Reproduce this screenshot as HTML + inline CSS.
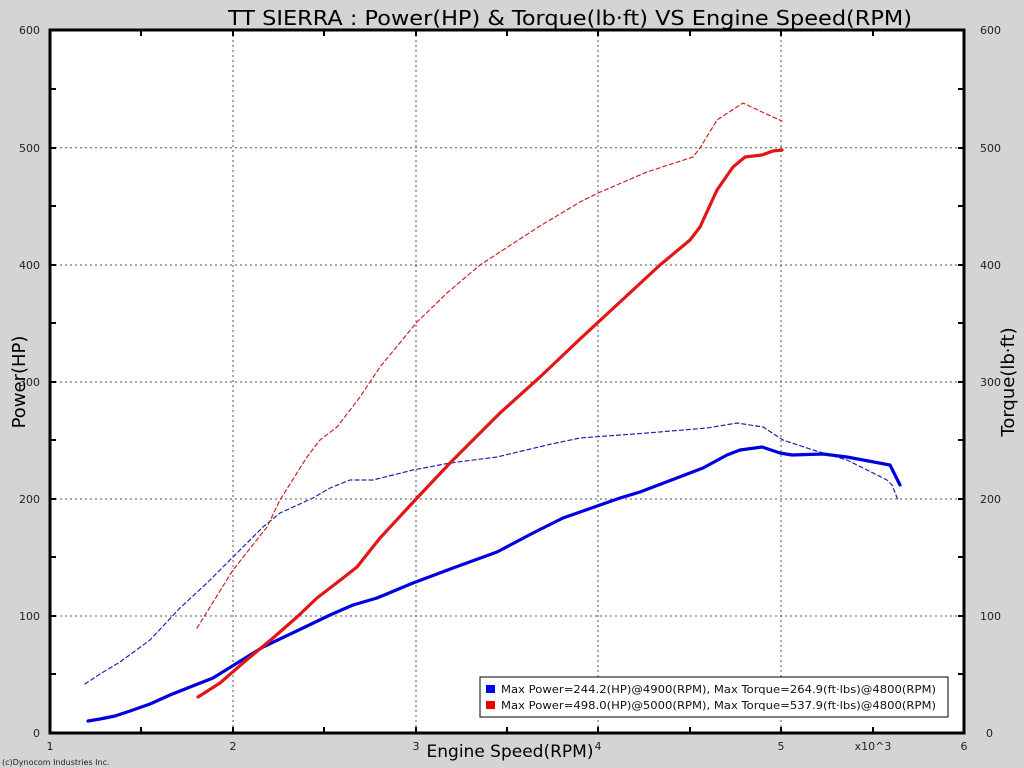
<!DOCTYPE html>
<html><head><meta charset="utf-8"><style>
html,body{margin:0;padding:0;background:#d4d4d4;}
svg{display:block;font-family:"DejaVu Sans","Liberation Sans",sans-serif;}
</style></head><body>
<svg width="1024" height="768" viewBox="0 0 1024 768">
<rect width="1024" height="768" fill="#d4d4d4"/>
<rect x="50" y="30" width="914" height="703" fill="#fff"/>
<g stroke="#555" stroke-width="1" stroke-dasharray="2,3">
<line x1="233" y1="30" x2="233" y2="733"/><line x1="416" y1="30" x2="416" y2="733"/>
<line x1="598" y1="30" x2="598" y2="733"/><line x1="781" y1="30" x2="781" y2="733"/>
<line x1="50" y1="147.8" x2="964" y2="147.8"/><line x1="50" y1="265" x2="964" y2="265"/>
<line x1="50" y1="382" x2="964" y2="382"/><line x1="50" y1="499" x2="964" y2="499"/>
<line x1="50" y1="616" x2="964" y2="616"/>
</g>
<g stroke="#000" stroke-width="2">
<path d="M141,30v6M233,30v6M324,30v6M416,30v6M507,30v6M598,30v6M690,30v6M781,30v6M873,30v6"/>
<path d="M141,733v-6M233,733v-6M324,733v-6M416,733v-6M507,733v-6M598,733v-6M690,733v-6M781,733v-6M873,733v-6"/>
<path d="M50,89h6M50,148h6M50,206h6M50,265h6M50,323h6M50,382h6M50,440h6M50,499h6M50,557h6M50,616h6M50,674h6"/>
<path d="M964,89h-6M964,148h-6M964,206h-6M964,265h-6M964,323h-6M964,382h-6M964,440h-6M964,499h-6M964,557h-6M964,616h-6M964,674h-6"/>
</g>
<rect x="50" y="30" width="914" height="703" fill="none" stroke="#000" stroke-width="3"/>
<g fill="none" stroke-linejoin="round" stroke-linecap="round">
<polyline stroke="#2222aa" stroke-width="1.2" stroke-dasharray="4,3" points="85,684 100,674 120,662 150,640 180,608 207,583 233,557 263,527 280,513 313,498 330,488 350,480 373,480 413,470 450,463 497,457 547,445 580,438 647,433 707,428 737,423 763,427 783,440 813,450 847,460 887,480 892,485 898,500"/>
<polyline stroke="#cc2222" stroke-width="1.2" stroke-dasharray="4,3" points="197,628 233,570 267,527 280,500 307,457 320,440 337,427 360,397 380,367 417,322 447,293 480,265 503,250 540,226 580,202 598,193 647,172 693,157 700,148 717,120 743,103 762,112 782,121"/>
<polyline stroke="#0000dd" stroke-width="3.2" points="88,721 100,719 115,716 130,711 150,704 170,695 180,691 213,678 263,647 303,628 330,615 353,605 377,598 413,583 453,568 497,552 533,533 563,518 620,498 640,492 703,468 727,455 740,450 762,447 780,453 792,455 823,454 847,457 890,465 900,485"/>
<polyline stroke="#e31515" stroke-width="3.2" points="198,697 220,683 243,663 273,638 297,617 317,598 343,578 357,567 380,538 417,498 450,463 500,413 540,377 580,339 620,302 660,265 690,240 700,227 717,190 733,167 745,157 762,155 773,151 782,150"/>
</g>
<g font-size="11" fill="#222">
<text x="40" y="34" text-anchor="end">600</text><text x="40" y="152" text-anchor="end">500</text>
<text x="40" y="269" text-anchor="end">400</text><text x="40" y="386" text-anchor="end">300</text>
<text x="40" y="503" text-anchor="end">200</text><text x="40" y="620" text-anchor="end">100</text>
<text x="40" y="737" text-anchor="end">0</text>
<text x="980" y="34">600</text><text x="980" y="152">500</text><text x="980" y="269">400</text>
<text x="980" y="386">300</text><text x="980" y="503">200</text><text x="980" y="620">100</text><text x="986" y="737">0</text>
<text x="50" y="750" text-anchor="middle">1</text><text x="233" y="750" text-anchor="middle">2</text>
<text x="416" y="750" text-anchor="middle">3</text><text x="598" y="750" text-anchor="middle">4</text>
<text x="781" y="750" text-anchor="middle">5</text><text x="964" y="750" text-anchor="middle">6</text>
<text x="873" y="750" text-anchor="middle">x10^3</text>
<text x="2" y="765" font-size="8">(c)Dynocom Industries Inc.</text>
</g>
<text x="570" y="25" font-size="20" text-anchor="middle" textLength="684" lengthAdjust="spacingAndGlyphs">TT SIERRA : Power(HP) &amp; Torque(lb·ft) VS Engine Speed(RPM)</text>
<text x="510" y="757" font-size="17" text-anchor="middle">Engine Speed(RPM)</text>
<text transform="translate(25,382) rotate(-90)" font-size="18" text-anchor="middle">Power(HP)</text>
<text transform="translate(1014,382) rotate(-90)" font-size="18" text-anchor="middle">Torque(lb·ft)</text>
<rect x="480" y="677" width="468" height="40" fill="#fff" stroke="#000" stroke-width="1"/>
<rect x="486" y="685" width="9" height="8" fill="#0000ee"/>
<rect x="486" y="701" width="9" height="8" fill="#ee0000"/>
<g font-size="11" fill="#111">
<text x="501" y="693" textLength="435" lengthAdjust="spacingAndGlyphs">Max Power=244.2(HP)@4900(RPM), Max Torque=264.9(ft·lbs)@4800(RPM)</text>
<text x="501" y="709" textLength="435" lengthAdjust="spacingAndGlyphs">Max Power=498.0(HP)@5000(RPM), Max Torque=537.9(ft·lbs)@4800(RPM)</text>
</g>
</svg>
</body></html>
